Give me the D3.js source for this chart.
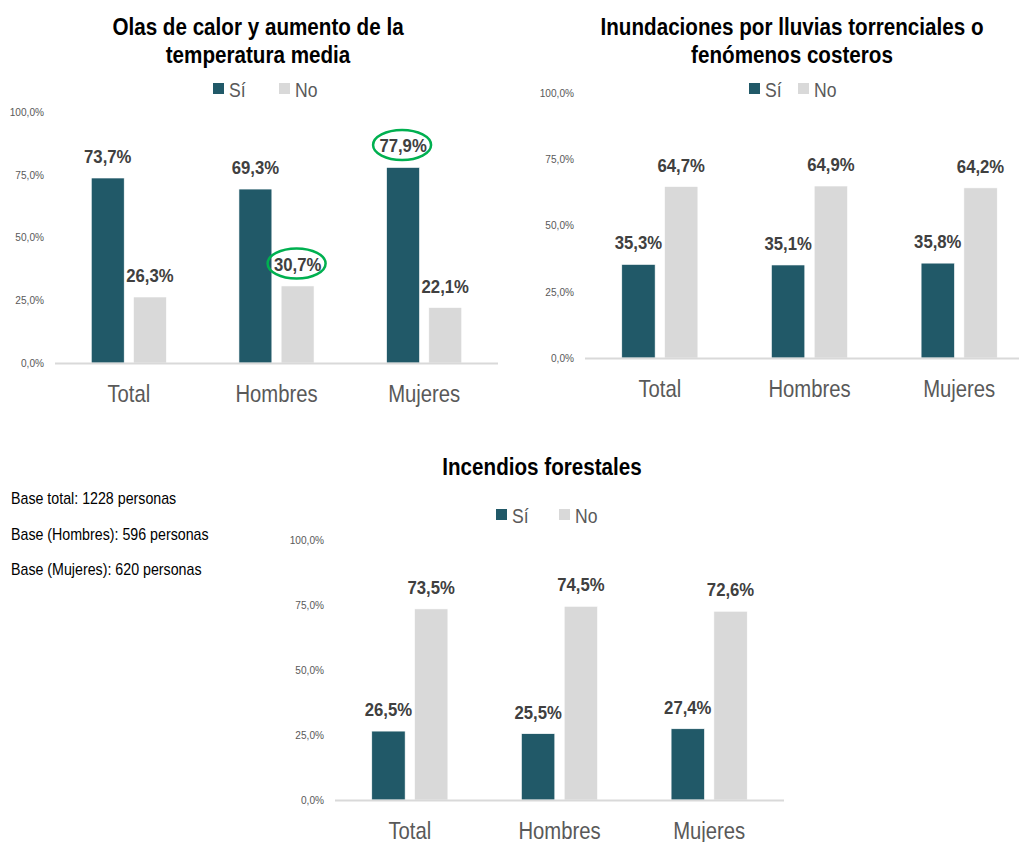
<!DOCTYPE html>
<html>
<head>
<meta charset="utf-8">
<script src="https://cdn.jsdelivr.net/npm/d3@7"></script>
<style>
  body { margin: 0; background: #fff; }
  svg { display: block; font-family: "Liberation Sans Narrow", "Arial Narrow", "Liberation Sans", Arial, sans-serif; }
  .tick-label { fill: #595959; font-size: 11px; }
  .cat-label { fill: #595959; font-size: 24px; }
  .legend-label { fill: #595959; font-size: 20px; }
  .value-label { fill: #404040; font-size: 19px; font-weight: bold; }
  .title { fill: #000; font-size: 24px; font-weight: bold; }
  .note { fill: #000; font-size: 16px; }
</style>
</head>
<body>
<svg width="1019" height="842"></svg>
<script>
// categories and series
var categories = ["Total", "Hombres", "Mujeres"];
var seriesNames = ["Sí", "No"];
var yTicks = [0, 25, 50, 75, 100];

// Olas de calor y aumento de la temperatura media
var olasSi = [73.7, 69.3, 77.9];
var olasNo = [26.3, 30.7, 22.1];

// Inundaciones por lluvias torrenciales o fenómenos costeros
var inundSi = [35.3, 35.1, 35.8];
var inundNo = [64.7, 64.9, 64.2];

// Incendios forestales
var incenSi = [26.5, 25.5, 27.4];
var incenNo = [73.5, 74.5, 72.6];

var baseNotes = [
  "Base total: 1228 personas",
  "Base (Hombres): 596 personas",
  "Base (Mujeres): 620 personas"
];

var colors = { "Sí": "#215968", "No": "#d9d9d9" };
var fmt = function(v) { return v.toFixed(1).replace(".", ",") + "%"; };

// no narrow font installed, so squeeze the text horizontally
function narrow(sel, fx, fy, sx) {
  sel.attr("transform", function(d, i) {
    return "translate(" + fx(d, i) + "," + fy(d, i) + ") scale(" + sx + ",1)";
  });
}

var svg = d3.select("svg");

var charts = [
  {
    title: ["Olas de calor y aumento de la", "temperatura media"],
    si: olasSi, no: olasNo,
    x0: 55, x1: 498, y0: 363, y100: 112,
    titleX: 258, titleY: 35,
    legendY: 83, legendX: [213, 279],
    circled: [["Sí", "Mujeres"], ["No", "Hombres"]]
  },
  {
    title: ["Inundaciones por lluvias torrenciales o", "fenómenos costeros"],
    si: inundSi, no: inundNo,
    x0: 585, x1: 1034, y0: 358, y100: 93,
    titleX: 792, titleY: 35,
    legendY: 83, legendX: [749, 798],
    circled: []
  },
  {
    title: ["Incendios forestales"],
    si: incenSi, no: incenNo,
    x0: 335, x1: 784, y0: 800, y100: 540,
    titleX: 542, titleY: 475,
    legendY: 509, legendX: [496, 559],
    circled: []
  }
];

charts.forEach(function(c) {
  var g = svg.append("g");

  var x = d3.scaleBand().domain(categories).range([c.x0, c.x1]);
  var xs = d3.scaleBand().domain(seriesNames)
    .range([0, x.bandwidth()])
    .paddingInner(0.22).paddingOuter(0.86);
  var y = d3.scaleLinear().domain([0, 100]).range([c.y0, c.y100]);

  // title
  g.selectAll("text.title").data(c.title).enter().append("text")
    .attr("class", "title")
    .attr("text-anchor", "middle")
    .text(function(d) { return d; })
    .call(narrow, function() { return c.titleX; }, function(d, i) { return c.titleY + i * 28; }, 0.86);

  // legend
  var lg = g.selectAll("g.legend").data(seriesNames).enter().append("g")
    .attr("transform", function(d, i) { return "translate(" + c.legendX[i] + "," + c.legendY + ")"; });
  lg.append("rect").attr("width", 11).attr("height", 11).attr("fill", function(d) { return colors[d]; });
  lg.append("text").attr("class", "legend-label").text(function(d) { return d; })
    .call(narrow, function() { return 16; }, function() { return 14; }, 0.88);

  // y tick labels
  g.selectAll("text.tick-label").data(yTicks).enter().append("text")
    .attr("class", "tick-label")
    .attr("dy", "0.35em")
    .attr("text-anchor", "end")
    .text(function(d) { return d.toFixed(1).replace(".", ",") + "%"; })
    .call(narrow, function() { return c.x0 - 11; }, function(d) { return y(d); }, 0.92);

  var rows = [];
  categories.forEach(function(cat, i) {
    rows.push({ cat: cat, s: "Sí", v: c.si[i] });
    rows.push({ cat: cat, s: "No", v: c.no[i] });
  });

  // bars
  g.selectAll("rect.bar").data(rows).enter().append("rect")
    .attr("class", "bar")
    .attr("x", function(d) { return x(d.cat) + xs(d.s); })
    .attr("width", xs.bandwidth())
    .attr("y", function(d) { return y(d.v); })
    .attr("height", function(d) { return c.y0 - y(d.v); })
    .attr("fill", function(d) { return colors[d.s]; })
    .attr("stroke", "#fff")
    .attr("stroke-width", 0.6);

  // axis line
  g.append("line")
    .attr("x1", c.x0).attr("x2", c.x1)
    .attr("y1", c.y0 + 0.5).attr("y2", c.y0 + 0.5)
    .attr("stroke", "#d9d9d9").attr("stroke-width", 2);

  // value labels
  g.selectAll("text.value-label").data(rows).enter().append("text")
    .attr("class", "value-label")
    .attr("text-anchor", "middle")
    .text(function(d) { return fmt(d.v); })
    .call(narrow,
      function(d) { return x(d.cat) + xs(d.s) + xs.bandwidth() / 2; },
      function(d) { return y(d.v) - 15; }, 0.88);

  // highlighted labels
  var hl = rows.filter(function(d) {
    return c.circled.some(function(h) { return h[0] === d.s && h[1] === d.cat; });
  });
  g.selectAll("ellipse").data(hl).enter().append("ellipse")
    .attr("cx", function(d) { return x(d.cat) + xs(d.s) + xs.bandwidth() / 2 - 1; })
    .attr("cy", function(d) { return y(d.v) - 22.5; })
    .attr("rx", 29).attr("ry", 15)
    .attr("fill", "none")
    .attr("stroke", "#00b050").attr("stroke-width", 2.5);

  // category labels
  g.selectAll("text.cat-label").data(categories).enter().append("text")
    .attr("class", "cat-label")
    .attr("text-anchor", "middle")
    .text(function(d) { return d; })
    .call(narrow, function(d) { return x(d) + x.bandwidth() / 2; }, function() { return c.y0 + 39; }, 0.845);
});

// base notes
svg.selectAll("text.note").data(baseNotes).enter().append("text")
  .attr("class", "note")
  .text(function(d) { return d; })
  .call(narrow, function() { return 11; }, function(d, i) { return 504 + i * 35.5; }, 0.89);
</script>
</body>
</html>
